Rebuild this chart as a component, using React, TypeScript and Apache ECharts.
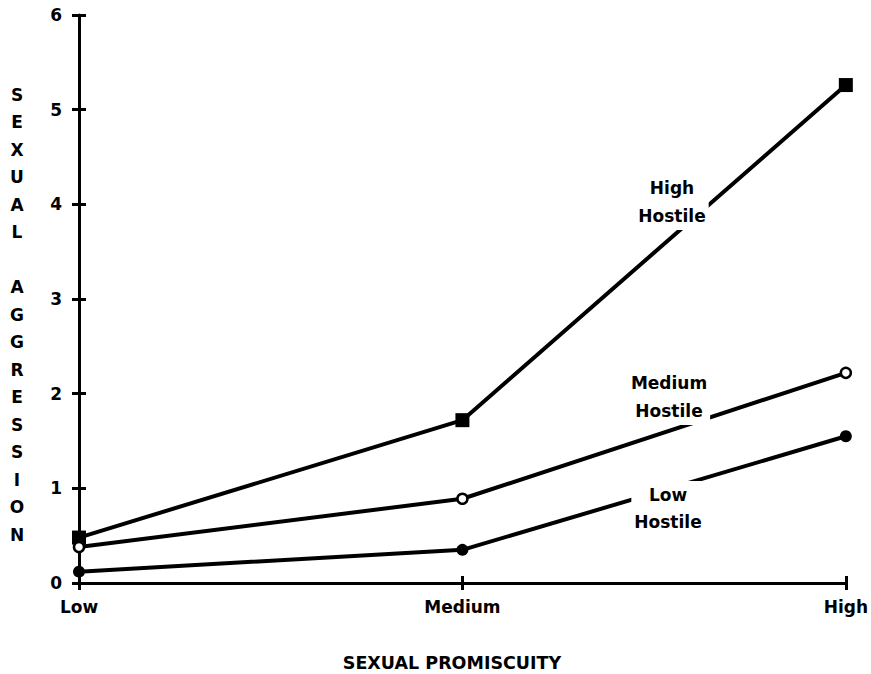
import React, { useEffect, useRef } from "react";
import * as echarts from "echarts";

const categories = ["Low", "Medium", "High"];
const highHostile = [0.48, 1.72, 5.26];
const mediumHostile = [0.38, 0.89, 2.22];
const lowHostile = [0.12, 0.35, 1.55];
const yTicks = [0, 1, 2, 3, 4, 5, 6];
const yTitle = "SEXUAL AGGRESSION";
const xTitle = "SEXUAL PROMISCUITY";

const FONT = "DejaVu Sans";

export default function App() {
  const ref = useRef<HTMLDivElement>(null);
  useEffect(() => {
    if (!ref.current) return;
    const chart = echarts.init(ref.current, undefined, { renderer: "svg" });
    const lineStyle = { color: "#000", width: 4 };
    const vertical = yTitle.split("").join("\n");
    const axisBase = {
      axisLine: { show: true, lineStyle: { color: "#000", width: 3 } },
      splitLine: { show: false },
    };
    const labelBox = (text: string, x: number, y: number, lh: number) => ({
      type: "text",
      x,
      y,
      z: 100,
      style: {
        text,
        font: `bold 17px "${FONT}"`,
        fill: "#000",
        textAlign: "center",
        textVerticalAlign: "middle",
        lineHeight: lh,
        backgroundColor: "#fff",
        padding: [0, 3],
      },
    });
    chart.setOption({
      animation: false,
      backgroundColor: "#fff",
      grid: { left: 79, right: 24, top: 15, bottom: 91, containLabel: false },
      xAxis: [
        {
          type: "category",
          data: categories,
          boundaryGap: false,
          ...axisBase,
          axisTick: { show: true, inside: false, length: 7, lineStyle: { color: "#000", width: 3 } },
          axisLabel: { color: "#000", fontFamily: FONT, fontWeight: "bold", fontSize: 17, margin: 15 },
        },
        {
          type: "category",
          data: categories,
          boundaryGap: false,
          position: "bottom",
          axisLine: { show: false },
          axisTick: { show: true, inside: true, length: 7, lineStyle: { color: "#000", width: 3 } },
          axisLabel: { show: false },
          splitLine: { show: false },
        },
      ],
      yAxis: [
        {
          type: "value",
          min: 0,
          max: 6,
          interval: 1,
          ...axisBase,
          axisTick: { show: true, inside: false, length: 7, lineStyle: { color: "#000", width: 3 } },
          axisLabel: {
            color: "#000",
            fontFamily: FONT,
            fontWeight: "bold",
            fontSize: 17,
            margin: 17,
            formatter: (v: number) => (yTicks.includes(v) ? String(v) : ""),
          },
        },
        {
          type: "value",
          min: 0,
          max: 6,
          interval: 1,
          position: "left",
          axisLine: { show: false },
          axisTick: { show: true, inside: true, length: 7, lineStyle: { color: "#000", width: 3 } },
          axisLabel: { show: false },
          splitLine: { show: false },
        },
      ],
      series: [
        {
          name: "High Hostile",
          type: "line",
          data: highHostile,
          symbol: "rect",
          symbolSize: 14,
          lineStyle,
          itemStyle: { color: "#000" },
          z: 3,
        },
        {
          name: "Medium Hostile",
          type: "line",
          data: mediumHostile,
          symbol: "circle",
          symbolSize: 10,
          lineStyle,
          itemStyle: { color: "#fff", borderColor: "#000", borderWidth: 2.5 },
          z: 3,
        },
        {
          name: "Low Hostile",
          type: "line",
          data: lowHostile,
          symbol: "circle",
          symbolSize: 12,
          lineStyle,
          itemStyle: { color: "#000" },
          z: 3,
        },
      ],
      graphic: [
        {
          type: "text",
          x: 17,
          y: 81,
          z: 100,
          style: {
            text: vertical,
            font: `bold 17px "${FONT}"`,
            fill: "#000",
            textAlign: "center",
            textVerticalAlign: "top",
            lineHeight: 27.5,
          },
        },
        {
          type: "text",
          x: 452,
          y: 663,
          z: 100,
          style: {
            text: xTitle,
            font: `bold 17.5px "${FONT}"`,
            fill: "#000",
            textAlign: "center",
            textVerticalAlign: "middle",
          },
        },
        labelBox("High\nHostile", 672, 202, 28),
        labelBox("Medium\nHostile", 669, 397, 28),
        labelBox("Low\nHostile", 668, 508, 27),
      ],
    });
    return () => chart.dispose();
  }, []);
  return (
    <div
      ref={ref}
      style={{ position: "fixed", left: 0, top: 0, width: 871, height: 674, background: "#fff" }}
    />
  );
}
